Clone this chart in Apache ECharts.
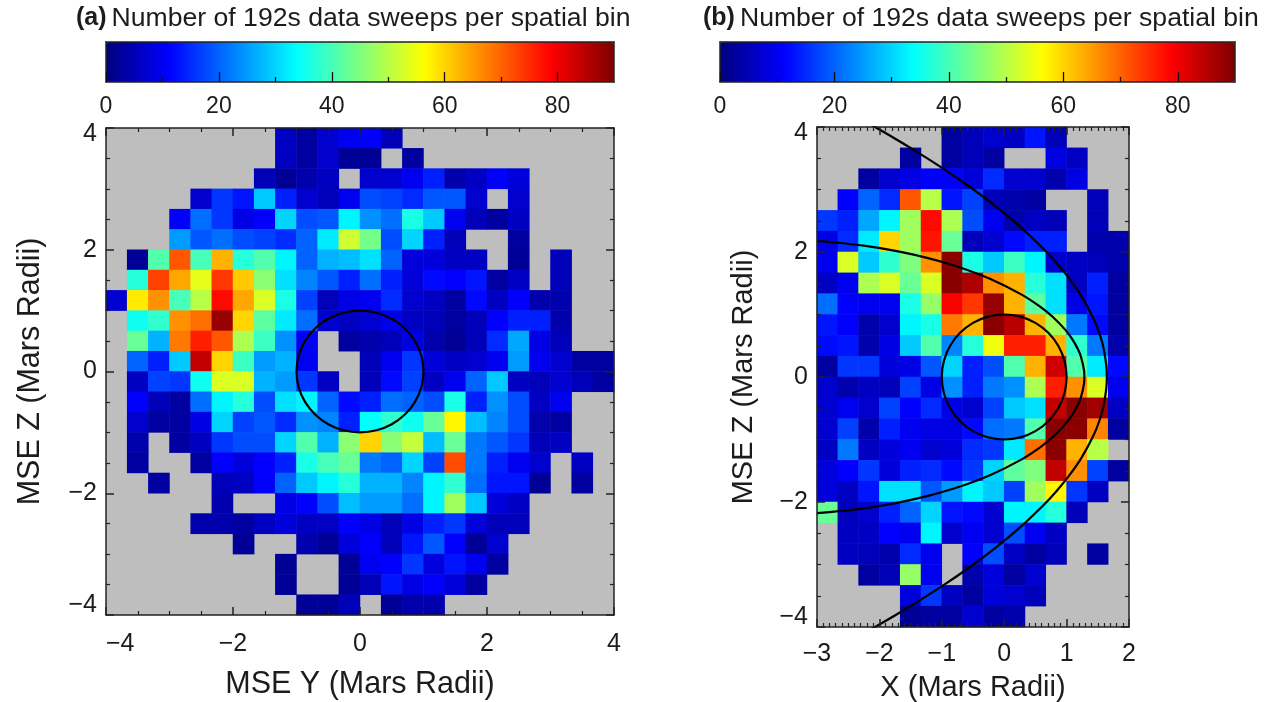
<!DOCTYPE html>
<html><head><meta charset="utf-8">
<style>html,body{margin:0;padding:0;background:#fff}#c{width:1275px;height:702px}</style>
<script src="https://cdn.jsdelivr.net/npm/echarts@6/dist/echarts.min.js"></script>
</head><body><div id="c"></div>
<script>
const n = null;
// Panel (a): MSE Y (columns, -4..4) by MSE Z (rows, top = +4), sweeps per bin
const sweepsYZ = [
[n,n,n,n,n,n,n,n,6,3,7,10,11,5,n,n,n,n,n,n,n,n,n,n],
[n,n,n,n,n,n,n,n,6,3,7,2,2,n,3,n,n,n,n,n,n,n,n,n],
[n,n,n,n,n,n,n,5,2,4,6,n,7,7,10,14,4,6,11,8,n,n,n,n],
[n,n,n,n,7,16,13,29,14,7,5,10,18,17,15,19,19,7,n,7,n,n,n,n],
[n,n,n,11,21,16,9,11,30,18,19,33,24,21,36,29,10,5,3,6,n,n,n,n],
[n,n,n,25,19,21,18,17,15,20,32,52,44,18,30,14,5,n,n,3,n,n,n,n],
[n,2,41,71,40,63,37,41,33,20,27,28,31,20,8,8,6,6,n,2,n,5,n,n],
[n,37,73,64,54,74,61,46,31,23,19,14,21,14,8,12,11,13,3,6,n,5,n,n],
[7,58,66,40,50,78,64,53,36,17,5,9,10,15,7,6,3,12,6,11,4,4,n,n],
[n,35,38,66,69,88,60,42,32,21,7,6,7,10,6,5,3,5,11,14,14,4,n,n],
[n,43,27,68,76,71,49,39,24,11,n,3,4,5,9,4,2,5,15,26,9,5,n,n],
[n,20,14,29,84,60,39,25,27,10,n,n,5,10,16,8,6,7,10,25,10,7,3,3],
[n,6,17,16,35,53,53,27,25,16,6,n,5,12,17,6,10,20,29,6,5,7,5,3],
[n,11,5,3,21,33,37,18,31,33,20,12,14,21,20,18,36,14,24,18,6,10,n,n],
[n,7,3,3,9,30,17,19,15,24,23,14,34,38,35,43,57,28,23,18,4,3,n,n],
[n,4,n,3,6,16,18,18,30,41,27,46,60,46,51,28,43,22,19,16,5,6,n,n],
[n,3,n,n,3,11,8,11,14,36,40,43,22,20,30,17,72,22,14,10,7,n,6,n],
[n,n,3,n,n,5,6,11,20,29,33,37,27,27,23,33,38,21,13,13,2,n,3,n],
[n,n,n,n,n,4,n,n,9,11,18,28,25,25,21,33,48,29,8,6,n,n,n,n],
[n,n,n,n,4,4,3,6,8,6,6,11,9,5,9,14,16,8,5,5,n,n,n,n],
[n,n,n,n,n,n,2,n,n,4,2,8,11,5,13,19,11,2,7,n,n,n,n,n],
[n,n,n,n,n,n,n,n,2,n,n,2,10,11,16,8,13,10,3,n,n,n,n,n],
[n,n,n,n,n,n,n,n,2,n,n,2,5,13,9,11,8,3,n,n,n,n,n,n],
[n,n,n,n,n,n,n,n,n,2,2,5,n,2,4,4,n,n,n,n,n,n,n,n]
];
// Panel (b): X (columns, -3..2) by MSE Z (rows, top = +4), sweeps per bin
const sweepsXZ = [
[n,n,n,n,n,n,3,5,7,6,13,5,n,n,n],
[n,n,n,n,3,n,3,5,3,n,n,9,6,n,n],
[n,n,3,7,9,11,11,8,15,7,7,4,9,n,n],
[n,11,20,15,71,50,13,17,5,4,3,n,n,5,n],
[16,14,26,33,48,78,49,18,10,4,6,5,n,5,n],
[9,15,32,60,48,77,43,5,7,12,14,14,n,4,4],
[10,53,29,38,45,66,89,36,29,39,33,7,6,5,4],
[6,10,49,53,43,53,89,86,66,63,37,31,6,14,3],
[21,11,10,10,36,47,79,74,88,63,42,31,9,13,3],
[13,11,4,7,33,36,68,63,89,85,63,48,22,12,3],
[12,13,4,9,29,41,23,37,55,76,76,63,38,22,4],
[3,16,16,8,9,19,30,14,18,41,63,83,41,32,12],
[7,4,6,5,17,9,24,14,22,24,49,76,66,53,10],
[7,10,7,17,11,15,9,7,17,29,31,84,89,87,6],
[7,17,4,14,10,9,9,12,21,22,41,89,89,67,3],
[6,22,6,8,10,7,8,15,16,32,69,89,63,50,n],
[8,11,16,8,14,15,12,16,30,42,45,84,66,17,3],
[8,6,13,31,31,19,25,33,29,17,48,57,16,6,n],
[43,5,7,14,20,30,13,12,7,33,33,37,5,n,n],
[n,6,6,11,10,33,7,10,7,18,10,6,n,n,n],
[n,6,5,4,15,10,n,11,18,6,3,5,n,3,n],
[n,n,3,5,47,10,n,4,8,3,7,n,n,n,n],
[n,n,n,n,8,16,6,3,8,7,5,n,n,n,n],
[n,n,n,n,2,3,3,7,3,4,n,n,n,n,n]
];
// Mars disc outline (Y or X, Z)
const marsOutline = [[1,0],[.966,.259],[.866,.5],[.707,.707],[.5,.866],[.259,.966],[0,1],[-.259,.966],[-.5,.866],[-.707,.707],[-.866,.5],[-.966,.259],[-1,0],[-.966,-.259],[-.866,-.5],[-.707,-.707],[-.5,-.866],[-.259,-.966],[0,-1],[.259,-.966],[.5,-.866],[.707,-.707],[.866,-.5],[.966,-.259],[1,0]];
// Outer boundary
const outerBoundary = [[-2.16,4.05],[-2,3.96],[-1.76,3.821],[-1.36,3.579],[-.96,3.323],[-.56,3.048],[-.16,2.75],[.24,2.419],[.64,2.04],[.84,1.823],[1.04,1.578],[1.24,1.289],[1.44,.916],[1.54,.655],[1.59,.474],[1.64,.142],[1.645,0],[1.64,-.142],[1.59,-.474],[1.54,-.655],[1.44,-.916],[1.24,-1.289],[1.04,-1.578],[.84,-1.823],[.64,-2.04],[.24,-2.419],[-.16,-2.75],[-.56,-3.048],[-.96,-3.323],[-1.36,-3.579],[-1.76,-3.821],[-2,-3.96],[-2.16,-4.05]];
// Inner boundary
const innerBoundary = [[-3,2.177],[-2.72,2.154],[-2.22,2.097],[-1.72,2.013],[-1.22,1.902],[-.72,1.757],[-.22,1.568],[.28,1.318],[.58,1.122],[.78,.96],[.98,.754],[1.08,.621],[1.18,.447],[1.23,.325],[1.28,.1],[1.285,0],[1.28,-.1],[1.23,-.325],[1.18,-.447],[1.08,-.621],[.98,-.754],[.78,-.96],[.58,-1.122],[.28,-1.318],[-.22,-1.568],[-.72,-1.757],[-1.22,-1.902],[-1.72,-2.013],[-2.22,-2.097],[-2.72,-2.154],[-3,-2.177]];
const colorbarMajor = [0,20,40,60,80];
const colorbarMinor = [10,30,50,70];
const jet = ['#00007f','#0000ff','#007fff','#00ffff','#7fff7f','#ffff00','#ff7f00','#ff0000','#7f0000'];
const titleText = 'Number of 192s data sweeps per spatial bin';

const FONT = '"Liberation Sans", Arial, sans-serif';
const INK = '#1c1c1c';
const AXLINE = {show:true, onZero:false, lineStyle:{color:'#222', width:1.5}};
const minus = v => String(v).replace('-', '\u2212');
const yLabel = v => v === 4 ? '{hi|4}' : v === -4 ? '{lo|\u22124}' : minus(v);

function cells(rows){
  const out = [];
  rows.forEach((r, i) => r.forEach((v, j) => { if (v !== null) out.push([j, rows.length - 1 - i, v]); }));
  return out;
}
const idx = m => Array.from({length:m}, (_, i) => String(i));

const boxA = {left:106, top:128, width:508, height:487};
const boxB = {left:817, top:127, width:312, height:500};
const barA = {left:106, top:42, width:508, height:40};
const barB = {left:720, top:42, width:515, height:40};

const grid = [
  Object.assign({show:true, backgroundColor:'#bebebe', borderWidth:0, outerBoundsMode:'none'}, boxA),
  Object.assign({show:true, backgroundColor:'#bebebe', borderWidth:0, outerBoundsMode:'none'}, boxB),
  Object.assign({outerBoundsMode:'none'}, barA),
  Object.assign({outerBoundsMode:'none'}, barB)
];

const xAxis = [], yAxis = [];
function hiddenCat(list, gi, m){ list.push({type:'category', gridIndex:gi, show:false, data:idx(m)}); return list.length-1; }
function plotAxis(list, gi, pos, min, max, interval, minorSplit, withLabel, extra){
  list.push(Object.assign({
    type:'value', gridIndex:gi, position:pos, min, max, interval, z:10,
    axisLine:AXLINE, splitLine:{show:false},
    axisTick:{show:true, inside:true, length:8, lineStyle:{color:'#222', width:1.5}},
    minorTick:{show:true, splitNumber:minorSplit, length:4, lineStyle:{color:'#222', width:1.2}},
    axisLabel:{show:withLabel, color:INK, fontFamily:FONT, fontSize:25, margin:17, formatter:minus}
  }, extra||{}));
  return list.length-1;
}
const nameStyle = {color:INK, fontFamily:FONT, fontSize:30.5};
const nameStyleB = {color:INK, fontFamily:FONT, fontSize:29};
const yLabelOpts = {margin:9, formatter:yLabel, verticalAlignMinLabel:'bottom', verticalAlignMaxLabel:'top',
  rich:{hi:{fontFamily:FONT, fontSize:25, color:INK, lineHeight:12}, lo:{fontFamily:FONT, fontSize:25, color:INK, lineHeight:20}}};

// panel a
const catXA = hiddenCat(xAxis,0,24), catYA = hiddenCat(yAxis,0,24);
const valXA = plotAxis(xAxis,0,'bottom',-4,4,2,4,true,{name:'MSE Y (Mars Radii)', nameLocation:'middle', nameGap:54, nameTextStyle:nameStyle});
xAxis[valXA].axisLabel.alignMinLabel='left';
plotAxis(xAxis,0,'top',-4,4,2,4,false);
const valYA = plotAxis(yAxis,0,'left',-4,4,2,4,true,{name:'MSE Z (Mars Radii)', nameLocation:'middle', nameGap:60, nameTextStyle:nameStyle});
Object.assign(yAxis[valYA].axisLabel, yLabelOpts);
plotAxis(yAxis,0,'right',-4,4,2,4,false);
// panel b
const catXB = hiddenCat(xAxis,1,15), catYB = hiddenCat(yAxis,1,24);
const valXB = plotAxis(xAxis,1,'bottom',-3,2,1,10,true,{name:'X (Mars Radii)', nameLocation:'middle', nameGap:46, nameTextStyle:nameStyleB});
xAxis[valXB].axisLabel.margin = 15;
plotAxis(xAxis,1,'top',-3,2,1,10,false);
const valYB = plotAxis(yAxis,1,'left',-4,4,2,4,true,{name:'MSE Z (Mars Radii)', nameLocation:'middle', nameGap:59, nameTextStyle:nameStyleB});
Object.assign(yAxis[valYB].axisLabel, yLabelOpts);
plotAxis(yAxis,1,'right',-4,4,2,4,false);
// colour bars
[2,3].forEach(gi => {
  xAxis.push({type:'value', gridIndex:gi, position:'bottom', min:0, max:90, z:10, axisLine:AXLINE, splitLine:{show:false},
    axisTick:{show:true, inside:true, length:10, customValues:colorbarMajor, lineStyle:{color:'#111', width:1.3}},
    axisLabel:{show:true, customValues:colorbarMajor, color:INK, fontFamily:FONT, fontSize:23, margin:13}});
  xAxis.push({type:'value', gridIndex:gi, position:'bottom', min:0, max:90, z:10, axisLine:{show:false}, splitLine:{show:false},
    axisTick:{show:true, inside:true, length:5, customValues:colorbarMinor, lineStyle:{color:'#111', width:1.3}},
    axisLabel:{show:false}});
  xAxis.push({type:'value', gridIndex:gi, position:'top', min:0, max:90, z:10, axisLine:AXLINE, splitLine:{show:false}, axisTick:{show:false}, axisLabel:{show:false}});
  yAxis.push({type:'value', gridIndex:gi, position:'left', min:0, max:1, z:10, axisLine:AXLINE, splitLine:{show:false}, axisTick:{show:false}, axisLabel:{show:false}});
  yAxis.push({type:'value', gridIndex:gi, position:'right', min:0, max:1, z:10, axisLine:AXLINE, splitLine:{show:false}, axisTick:{show:false}, axisLabel:{show:false}});
});

function curve(name, pts, xi, yi){
  return {type:'line', name, xAxisIndex:xi, yAxisIndex:yi, data:pts, smooth:0.4, showSymbol:false, symbol:'none', z:5,
    lineStyle:{color:'#000', width:2.2}, silent:true, clip:true};
}
const series = [
  {type:'heatmap', name:'a', xAxisIndex:catXA, yAxisIndex:catYA, data:cells(sweepsYZ), progressive:0, z:2},
  {type:'heatmap', name:'b', xAxisIndex:catXB, yAxisIndex:catYB, data:cells(sweepsXZ), progressive:0, z:2},
  curve('Mars a', marsOutline, valXA, valYA),
  curve('Mars b', marsOutline, valXB, valYB),
  curve('Outer', outerBoundary, valXB, valYB),
  curve('Inner', innerBoundary, valXB, valYB)
];

function vm(i, bar){
  return {type:'continuous', seriesIndex:i, min:0, max:90, orient:'horizontal', left:bar.left, top:bar.top,
    itemHeight:bar.width, itemWidth:bar.height, padding:0, calculable:false, realtime:false, hoverLink:false,
    showLabel:false, text:null, inRange:{color:jet}, z:4};
}
function title(letter, left){
  return {text:'{b|('+letter+')} {t|'+titleText+'}', left, top:5, padding:0,
    textStyle:{fontWeight:'normal', rich:{b:{fontFamily:FONT, fontSize:25, fontWeight:'bold', color:INK}, t:{fontFamily:FONT, fontSize:26.6, fontWeight:'normal', color:INK}}}};
}

const chart = echarts.init(document.getElementById('c'), null, {renderer:'canvas'});
chart.setOption({
  animation:false, backgroundColor:'#fff',
  title:[title('a',76), title('b',703)],
  grid, xAxis, yAxis, series,
  visualMap:[vm(0,barA), vm(1,barB)]
});
</script></body></html>
